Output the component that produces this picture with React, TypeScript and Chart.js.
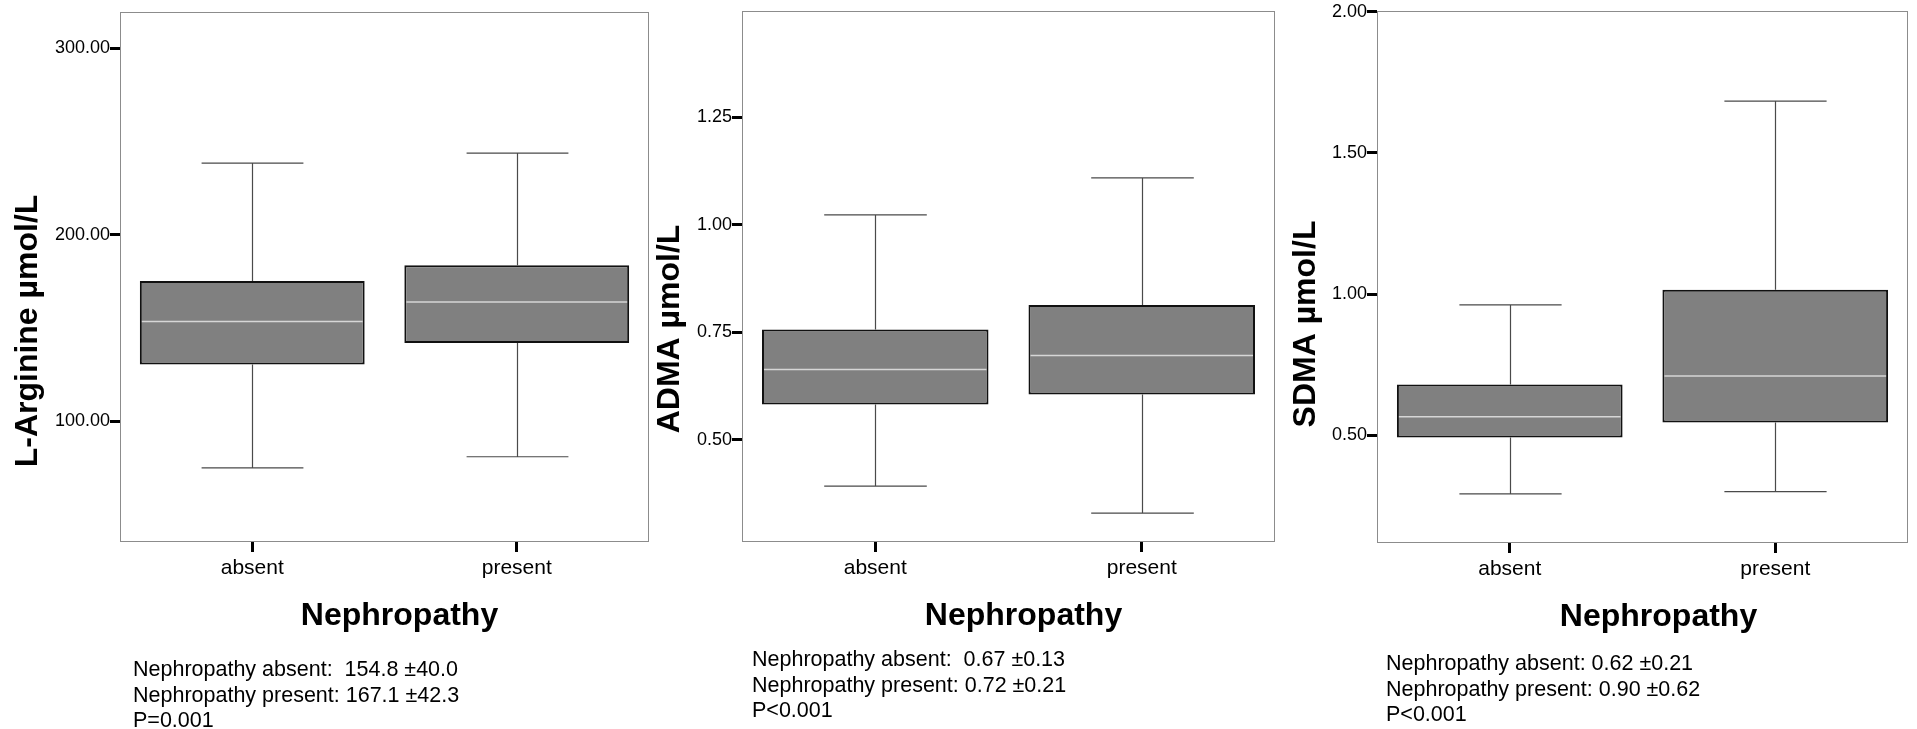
import React, { useEffect, useRef } from 'react';
import { Chart, registerables } from 'chart.js';

Chart.register(...registerables);

const FONT = "'Liberation Sans', Arial, Helvetica, sans-serif";

// ---------- data ----------
const categories = ['absent', 'present'];

// L-Arginine (µmol/L)
const argMin = [75.0, 81.0];
const argQ1 = [130.5, 142.0];
const argMedian = [153.5, 164.0];
const argQ3 = [175.3, 183.7];
const argMax = [238.5, 243.8];
const argTicks = [100, 200, 300];
const argRange = [35.3, 319.5];
const argNotes = ['Nephropathy absent:  154.8 ±40.0', 'Nephropathy present: 167.1 ±42.3', 'P=0.001'];

// ADMA (µmol/L)
const admaMin = [0.392, 0.329];
const admaQ1 = [0.582, 0.605];
const admaMedian = [0.663, 0.696];
const admaQ3 = [0.756, 0.813];
const admaMax = [1.023, 1.109];
const admaTicks = [0.5, 0.75, 1.0, 1.25];
const admaRange = [0.262, 1.497];
const admaNotes = ['Nephropathy absent:  0.67 ±0.13', 'Nephropathy present: 0.72 ±0.21', 'P<0.001'];

// SDMA (µmol/L)
const sdmaMin = [0.292, 0.3];
const sdmaQ1 = [0.492, 0.545];
const sdmaMedian = [0.565, 0.71];
const sdmaQ3 = [0.68, 1.015];
const sdmaMax = [0.962, 1.684];
const sdmaTicks = [0.5, 1.0, 1.5, 2.0];
const sdmaRange = [0.118, 2.003];
const sdmaNotes = ['Nephropathy absent: 0.62 ±0.21', 'Nephropathy present: 0.90 ±0.62', 'P<0.001'];

const xTitle = 'Nephropathy';

// ---------- layout (positions/sizes, kept apart from the data) ----------
type Layout = {
  canvasLeft: number;
  areaLeft: number;
  areaTop: number;
  areaRight: number;
  areaBottom: number;
  yTitleX: number;
  yTitleY: number;
  xTitleDX: number;
  xTitleY: number;
  notesLeft: number;
  notesTop: number;
};

type PanelSpec = {
  yTitle: string;
  min: number[];
  q1: number[];
  median: number[];
  q3: number[];
  max: number[];
  ticks: number[];
  range: number[];
  notes: string[];
  layout: Layout;
};

const panels: PanelSpec[] = [
  {
    yTitle: 'L-Arginine µmol/L',
    min: argMin, q1: argQ1, median: argMedian, q3: argQ3, max: argMax,
    ticks: argTicks, range: argRange, notes: argNotes,
    layout: { canvasLeft: 0, areaLeft: 120, areaTop: 12, areaRight: 649, areaBottom: 542,
      yTitleX: 28, yTitleY: 331, xTitleDX: 15, xTitleY: 616, notesLeft: 133, notesTop: 657 },
  },
  {
    yTitle: 'ADMA µmol/L',
    min: admaMin, q1: admaQ1, median: admaMedian, q3: admaQ3, max: admaMax,
    ticks: admaTicks, range: admaRange, notes: admaNotes,
    layout: { canvasLeft: 622, areaLeft: 742, areaTop: 11, areaRight: 1275, areaBottom: 542,
      yTitleX: 670, yTitleY: 329, xTitleDX: 15, xTitleY: 616, notesLeft: 752, notesTop: 647 },
  },
  {
    yTitle: 'SDMA µmol/L',
    min: sdmaMin, q1: sdmaQ1, median: sdmaMedian, q3: sdmaQ3, max: sdmaMax,
    ticks: sdmaTicks, range: sdmaRange, notes: sdmaNotes,
    layout: { canvasLeft: 1257, areaLeft: 1377, areaTop: 11, areaRight: 1908, areaBottom: 543,
      yTitleX: 1306, yTitleY: 324, xTitleDX: 16, xTitleY: 617, notesLeft: 1386, notesTop: 651 },
  },
];

const PAGE_H = 729;
const RIGHT_PAD = 4;

function BoxPanel({ spec }: { spec: PanelSpec }) {
  const ref = useRef<HTMLCanvasElement | null>(null);
  const L = spec.layout;
  const canvasW = L.areaRight - L.canvasLeft + RIGHT_PAD;

  useEffect(() => {
    if (!ref.current) return;

    const boxPlugin = {
      id: 'boxDecor',
      beforeDatasetsDraw(chart: any) {
        const ctx = chart.ctx;
        const xs = chart.scales.x;
        const ys = chart.scales.y;
        const catW = xs.getPixelForValue(1) - xs.getPixelForValue(0);
        const capHalf = (catW * 0.385) / 2;
        ctx.save();
        ctx.strokeStyle = '#4a4a4a';
        ctx.lineWidth = 1.2;
        categories.forEach((_, i) => {
          const cx = Math.round(xs.getPixelForValue(i)) + 0.5;
          const yMax = ys.getPixelForValue(spec.max[i]);
          const yQ3 = ys.getPixelForValue(spec.q3[i]);
          const yQ1 = ys.getPixelForValue(spec.q1[i]);
          const yMin = ys.getPixelForValue(spec.min[i]);
          ctx.beginPath();
          ctx.moveTo(cx, yMax);
          ctx.lineTo(cx, yQ3);
          ctx.moveTo(cx, yQ1);
          ctx.lineTo(cx, yMin);
          ctx.moveTo(cx - capHalf, yMax);
          ctx.lineTo(cx + capHalf, yMax);
          ctx.moveTo(cx - capHalf, yMin);
          ctx.lineTo(cx + capHalf, yMin);
          ctx.stroke();
        });
        ctx.restore();
      },
      afterDatasetsDraw(chart: any) {
        const ctx = chart.ctx;
        const ys = chart.scales.y;
        const meta = chart.getDatasetMeta(0);
        ctx.save();
        // medians
        ctx.strokeStyle = '#d6d6d6';
        ctx.lineWidth = 1.5;
        meta.data.forEach((bar: any, i: number) => {
          const p = bar.getProps(['x', 'width'], true);
          const y = ys.getPixelForValue(spec.median[i]);
          ctx.beginPath();
          ctx.moveTo(p.x - p.width / 2 + 2, y);
          ctx.lineTo(p.x + p.width / 2 - 2, y);
          ctx.stroke();
        });
        // frame
        const a = chart.chartArea;
        ctx.strokeStyle = '#8c8c8c';
        ctx.lineWidth = 1;
        ctx.strokeRect(Math.round(a.left) + 0.5, Math.round(a.top) + 0.5,
          Math.round(a.right - a.left) - 1, Math.round(a.bottom - a.top) - 1);
        ctx.restore();
      },
      afterDraw(chart: any) {
        const ctx = chart.ctx;
        const a = chart.chartArea;
        ctx.save();
        ctx.fillStyle = '#000';
        ctx.font = `bold 32px ${FONT}`;
        ctx.textAlign = 'center';
        ctx.textBaseline = 'middle';
        ctx.fillText(xTitle, (a.left + a.right) / 2 + L.xTitleDX, L.xTitleY);
        ctx.translate(L.yTitleX - L.canvasLeft, L.yTitleY);
        ctx.rotate(-Math.PI / 2);
        ctx.fillText(spec.yTitle, 0, 0);
        ctx.restore();
      },
    };

    const chart = new Chart(ref.current, {
      type: 'bar',
      data: {
        labels: categories,
        datasets: [
          {
            data: categories.map((_, i) => [spec.q1[i], spec.q3[i]]) as any,
            backgroundColor: '#808080',
            borderColor: '#111111',
            borderWidth: 2,
            borderSkipped: false,
            barPercentage: 0.85,
            categoryPercentage: 1.0,
          },
        ],
      },
      options: {
        responsive: false,
        animation: false,
        events: [],
        layout: { padding: { top: L.areaTop, right: RIGHT_PAD, left: 0, bottom: 0 } },
        plugins: {
          legend: { display: false },
          tooltip: { enabled: false },
          title: { display: false },
        },
        scales: {
          x: {
            type: 'category',
            offset: true,
            grid: {
              display: true,
              drawOnChartArea: false,
              drawTicks: true,
              tickLength: 10,
              tickWidth: 3,
              tickColor: '#000',
              offset: false,
            },
            border: { display: false },
            ticks: {
              color: '#000',
              font: { family: FONT, size: 21 },
              padding: 4,
              maxRotation: 0,
              autoSkip: false,
            },
            afterFit: (s: any) => {
              s.height = PAGE_H - L.areaBottom;
            },
          },
          y: {
            type: 'linear',
            min: spec.range[0],
            max: spec.range[1],
            afterBuildTicks: (s: any) => {
              s.ticks = spec.ticks.map((v) => ({ value: v }));
            },
            grid: {
              display: true,
              drawOnChartArea: false,
              drawTicks: true,
              tickLength: 10,
              tickWidth: 3,
              tickColor: '#000',
            },
            border: { display: false },
            ticks: {
              color: '#000',
              font: { family: FONT, size: 18 },
              padding: 0,
              callback: (v: any) => Number(v).toFixed(2),
            },
            afterFit: (s: any) => {
              s.width = L.areaLeft - L.canvasLeft;
            },
          },
        },
      } as any,
      plugins: [boxPlugin],
    });
    return () => chart.destroy();
  }, []);

  return (
    <>
      <canvas
        ref={ref}
        width={canvasW}
        height={PAGE_H}
        style={{ position: 'absolute', left: L.canvasLeft, top: 0, width: canvasW, height: PAGE_H }}
      />
      <div
        style={{
          position: 'absolute',
          left: L.notesLeft,
          top: L.notesTop,
          fontFamily: FONT,
          fontSize: 21.5,
          lineHeight: '25.5px',
          color: '#000',
          whiteSpace: 'pre',
        }}
      >
        {spec.notes.map((t, i) => (
          <div key={i}>{t}</div>
        ))}
      </div>
    </>
  );
}

export default function App() {
  return (
    <div
      style={{
        position: 'absolute',
        left: 0,
        top: 0,
        width: 1917,
        height: PAGE_H,
        background: '#fff',
        overflow: 'hidden',
      }}
    >
      {panels.map((p, i) => (
        <BoxPanel key={i} spec={p} />
      ))}
    </div>
  );
}
